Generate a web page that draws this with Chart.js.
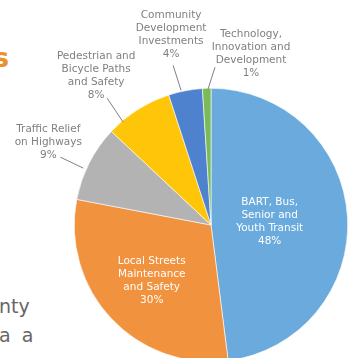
<!DOCTYPE html>
<html><head><meta charset="utf-8">
<script src="https://cdn.jsdelivr.net/npm/chart.js@4"></script>
<style>
html,body{margin:0;padding:0;width:352px;height:358px;overflow:hidden;background:#fff;}
#wrap{position:absolute;left:0;top:0;width:352px;height:370px;}
.bg{position:absolute;white-space:pre;font-family:"DejaVu Sans",sans-serif;line-height:1;}
</style></head><body>
<div class="bg" style="left:-7px;top:44px;font-size:27px;font-weight:bold;color:#E8912D;">s</div>
<div class="bg" style="left:-1px;top:297px;font-size:19px;color:#666666;">nty</div>
<div class="bg" style="left:-1px;top:326px;font-size:19px;color:#666666;word-spacing:5px;">a a</div>
<div id="wrap"><canvas id="c"></canvas></div>
<script>
const categories = [
  "BART, Bus,\nSenior and\nYouth Transit",
  "Local Streets\nMaintenance\nand Safety",
  "Traffic Relief\non Highways",
  "Pedestrian and\nBicycle Paths\nand Safety",
  "Community\nDevelopment\nInvestments",
  "Technology,\nInnovation and\nDevelopment"
];
const values = [48, 30, 9, 8, 4, 1];
const sliceColors = ["#6AAADC", "#F1923F", "#B3B3B3", "#FFC609", "#4F82CE", "#7BBA58"];

// label layout (relative to each slice's mid-angle anchor)
const labelLayout = [
  {inside: true, r: 0.43},
  {inside: true, r: 0.595},
  {t: [-40.9, -20.8], s: [-5.9, 5.2], e: [-28.9, -5.8]},
  {t: [-41.6, -33.4], s: [-14.6, 12.6], e: [-30.6, -11.4]},
  {t: [-14.3, -56.4], s: [-4.3, -0.4], e: [-12.3, -25.4]},
  {t: [44.3, -34.6], s: [1.3, 0.9], e: [8.3, -21.1]}
];

const labelPlugin = {
  id: 'sliceLabels',
  afterDatasetsDraw(chart) {
    const ctx = chart.ctx;
    const meta = chart.getDatasetMeta(0);
    ctx.save();
    ctx.font = '10.5px "DejaVu Sans", sans-serif';
    ctx.textAlign = 'center';
    ctx.textBaseline = 'middle';
    meta.data.forEach((arc, i) => {
      const p = arc.getProps(['x', 'y', 'startAngle', 'endAngle', 'outerRadius'], true);
      const mid = (p.startAngle + p.endAngle) / 2;
      const c = Math.cos(mid), s = Math.sin(mid);
      const L = labelLayout[i];
      const lines = categories[i].split('\n').concat([values[i] + '%']);
      let cx, cy;
      if (L.inside) {
        cx = p.x + c * p.outerRadius * L.r;
        cy = p.y + s * p.outerRadius * L.r;
        ctx.fillStyle = '#FFFFFF';
      } else {
        const ax = p.x + c * p.outerRadius, ay = p.y + s * p.outerRadius;
        ctx.strokeStyle = '#808080';
        ctx.lineWidth = 1;
        ctx.beginPath();
        ctx.moveTo(ax + L.s[0], ay + L.s[1]);
        ctx.lineTo(ax + L.e[0], ay + L.e[1]);
        ctx.stroke();
        cx = ax + L.t[0];
        cy = ay + L.t[1];
        ctx.fillStyle = '#808080';
      }
      const lh = 13;
      const y0 = cy - (lines.length - 1) * lh / 2;
      lines.forEach((t, k) => ctx.fillText(t, cx, y0 + k * lh));
    });
    ctx.restore();
  }
};

new Chart(document.getElementById('c'), {
  type: 'pie',
  data: {
    labels: categories.map(c => c.replace(/\n/g, ' ')),
    datasets: [{
      data: values,
      backgroundColor: sliceColors,
      borderColor: '#FFFFFF',
      borderWidth: 0.6
    }]
  },
  options: {
    responsive: true,
    maintainAspectRatio: false,
    animation: false,
    layout: {padding: {left: 74, right: 4, top: 88, bottom: 8}},
    plugins: {legend: {display: false}, tooltip: {enabled: false}}
  },
  plugins: [labelPlugin]
});
</script>
</body></html>
